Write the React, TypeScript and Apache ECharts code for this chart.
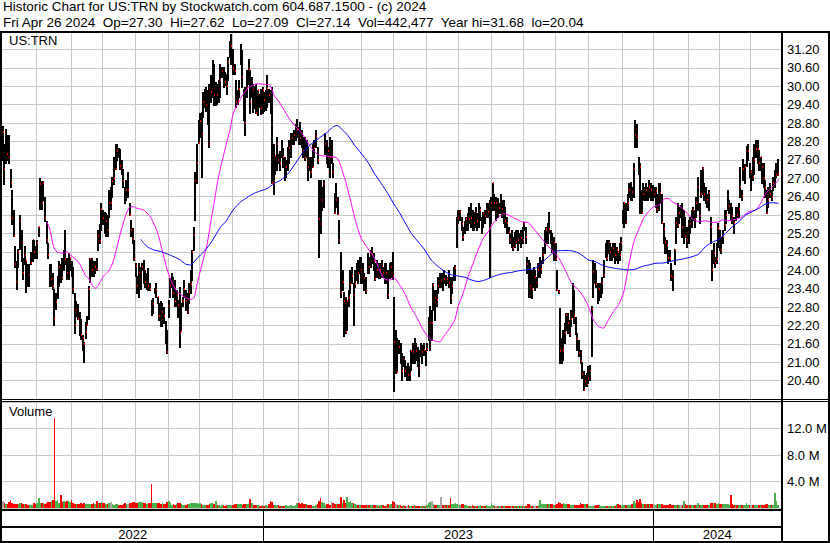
import React, { useEffect, useRef } from "react";
import * as echarts from "echarts";

const FONT = '"Liberation Sans", Arial, Helvetica, sans-serif';

const symbolName = "US:TRN";
const titleText = "Historic Chart for US:TRN by Stockwatch.com 604.687.1500 - (c) 2024";
const lastDate = "Fri Apr 26 2024";
const lastOpen = 27.3;
const lastVolume = 442477;
const yearHigh = 31.68;
const yearLow = 20.04;

// daily bars: [high, low, close]
const bars: number[][] = [
  [28.7,27.6,28.5],[28.1,26.8,27.3],[28.6,27.5,28.3],[28.4,27.6,27.8],[28.4,27.5,27.7],[27.3,26.7,26.85],[26.6,25.5,25.7],[25.95,25.1,25.1],[24.8,24.1,24.2],[24.3,23.4,23.6],
  [24.7,24.1,24.6],[25.8,24.7,25.6],[25.3,24.3,24.9],[24.4,23.7,23.9],[24.8,24.2,24.5],[24.3,23.3,24.3],[24.2,23.5,23.7],[24.2,23.5,23.85],[24.6,24.2,24.25],[25.0,24.3,25.0],
  [25.0,24.4,24.6],[24.8,24.4,24.45],[25.0,24.4,24.9],[25.4,25.1,25.4],[27.0,26.0,26.8],[26.9,26.0,26.2],[26.9,26.3,26.85],[26.4,25.6,25.7],[25.6,24.9,25.0],[24.9,24.4,24.5],
  [24.2,23.5,23.6],[24.2,23.5,23.7],[23.9,23.4,23.5],[23.4,22.2,22.4],[23.25,22.75,22.95],[23.8,23.1,23.6],[24.3,23.5,24.1],[24.2,23.6,23.85],[24.4,23.7,23.75],[24.65,24.0,24.5],
  [25.3,24.2,24.35],[24.4,23.7,23.9],[24.55,23.7,24.2],[24.4,24.0,24.4],[24.3,23.8,24.0],[24.1,23.25,23.4],[23.25,21.95,22.2],[22.98,22.5,22.7],[22.9,22.4,22.4],[22.65,21.9,22.05],
  [22.4,21.75,21.9],[21.9,21.4,21.8],[21.65,21.0,21.6],[22.3,21.8,22.0],[22.5,22.2,22.2],[23.5,22.4,23.4],[24.4,23.6,24.35],[24.4,23.8,24.0],[24.3,23.8,23.9],[24.3,23.9,24.1],
  [24.4,24.0,24.05],[25.3,24.65,25.1],[25.5,24.9,24.95],[26.2,25.3,26.0],[25.95,25.5,25.7],[25.9,25.2,25.4],[25.85,25.1,25.6],[25.8,25.1,25.3],[26.6,25.75,26.2],[26.7,26.0,26.2],
  [27.05,26.4,26.9],[27.7,26.8,27.0],[28.1,27.3,27.3],[28.1,27.6,27.9],[28.0,27.7,27.8],[27.95,27.3,27.4],[27.6,27.15,27.3],[27.3,26.7,26.9],[26.7,26.2,26.3],[26.95,26.3,26.6],
  [27.2,26.4,26.6],[26.2,25.8,25.8],[25.64,25.1,25.3],[25.37,24.88,25.02],[24.98,24.33,24.37],[24.23,23.8,24.15],[23.8,23.25,23.5],[24.23,23.14,23.9],[24.1,23.4,24.0],[24.23,24.0,24.1],
  [24.34,23.57,24.0],[24.0,23.46,23.6],[23.9,23.4,23.7],[24.06,23.35,23.5],[23.57,23.35,23.39],[23.03,22.54,22.7],[23.1,22.6,22.9],[23.41,23.25,23.3],[23.57,23.14,23.34],[23.14,22.92,23.11],
  [22.92,22.38,22.5],[22.98,22.17,22.19],[22.92,22.17,22.65],[22.8,22.27,22.5],[22.33,21.62,21.84],[22.06,21.3,21.32],[23.03,22.49,22.82],[23.73,23.14,23.5],[23.9,23.46,23.68],[23.79,23.14,23.27],
  [23.68,22.82,23.0],[23.35,22.82,23.2],[23.03,22.49,22.87],[23.46,21.51,22.0],[22.92,22.02,22.02],[23.14,22.82,23.0],[23.68,23.14,23.38],[23.36,22.71,23.0],[23.25,22.6,22.65],[23.57,22.92,23.3],
  [24.01,23.25,23.54],[24.65,23.68,24.58],[25.42,24.66,25.16],[27.2,25.64,26.92],[28.13,26.83,27.5],[28.89,28.15,28.15],[29.11,28.35,28.88],[29.16,27.05,28.43],[29.81,28.99,29.5],[29.92,29.32,29.76],
  [29.97,29.2,29.4],[29.87,28.78,29.22],[30.08,28.02,28.11],[30.35,29.48,29.8],[30.84,29.65,30.4],[30.73,29.38,29.7],[30.14,29.38,29.87],[30.08,29.43,29.7],[30.19,29.49,29.89],[30.73,29.65,30.2],
  [30.63,30.3,30.5],[30.63,29.97,30.3],[30.46,30.03,30.13],[30.41,29.76,30.0],[30.95,30.19,30.8],[31.49,30.95,31.2],[31.71,30.73,31.3],[31.22,30.41,30.6],[30.73,30.41,30.5],[30.19,29.32,29.5],
  [29.87,29.43,29.52],[30.19,29.65,29.9],[31.38,30.73,30.77],[31.17,29.97,30.3],[29.92,28.89,29.13],[29.97,28.4,28.81],[30.52,29.65,29.95],[30.9,30.08,30.57],[30.52,29.11,29.5],[30.3,29.65,29.97],
  [30.08,29.16,29.87],[30.0,29.3,29.5],[30.08,29.11,29.11],[29.87,29.05,29.87],[29.76,29.32,29.5],[29.9,29.1,29.3],[29.97,29.11,29.86],[29.8,29.2,29.56],[29.87,29.22,29.8],[30.35,29.32,29.95],
  [29.92,29.49,29.7],[29.87,29.11,29.3],[29.97,26.83,26.85],[28.13,26.5,26.83],[27.74,27.13,27.72],[28.35,27.26,28.11],[27.8,27.48,27.6],[27.9,27.26,27.5],[28.24,27.7,27.83],[27.97,27.37,27.7],
  [27.7,26.94,27.21],[27.59,27.05,27.35],[28.02,27.26,27.8],[28.24,27.48,27.97],[28.46,27.7,28.1],[28.46,28.13,28.31],[28.56,28.13,28.4],[28.78,28.24,28.5],[28.94,28.35,28.56],[28.67,28.13,28.4],
  [28.84,28.13,28.3],[28.56,28.02,28.13],[28.35,27.7,27.9],[28.35,27.59,27.66],[28.24,27.7,27.9],[28.02,26.94,27.37],[27.7,27.26,27.32],[27.7,27.05,27.2],[28.13,27.37,27.37],[28.24,27.7,28.0],
  [28.56,28.02,28.37],[28.02,27.48,27.6],[26.94,24.44,25.66],[26.94,25.2,25.5],[26.72,25.96,26.3],[26.94,26.07,26.8],[28.46,27.8,28.1],[28.24,27.48,27.94],[28.02,27.37,27.9],[28.35,27.05,27.7],
  [28.24,27.48,27.7],[27.48,27.05,27.2],[26.51,25.87,25.87],[26.83,26.07,26.29],[26.4,25.82,25.82],[25.64,24.88,24.99],[24.6,23.14,23.25],[24.01,23.36,23.6],[23.3,21.84,22.98],[23.14,21.95,22.0],
  [23.0,22.06,23.0],[23.36,22.82,23.1],[24.01,23.25,23.55],[24.12,23.57,23.8],[23.57,22.22,23.2],[24.01,23.46,23.54],[24.23,23.68,24.0],[24.34,23.57,23.9],[24.44,23.9,24.33],[24.44,23.57,24.0],
  [24.23,23.57,23.8],[23.9,23.36,23.76],[23.79,23.25,23.33],[24.55,23.9,24.2],[24.44,23.9,24.1],[24.66,24.12,24.4],[24.77,24.23,24.53],[24.55,24.01,24.3],[24.23,23.69,23.7],[24.34,23.79,24.0],
  [24.23,23.74,23.82],[24.23,23.74,24.0],[24.34,23.79,24.1],[24.12,23.79,23.92],[24.23,23.57,23.8],[24.23,23.57,23.9],[24.01,23.09,23.2],[24.23,23.74,23.92],[24.28,23.79,24.1],[24.6,23.7,23.8],
  [23.14,20.05,21.65],[22.06,20.65,21.65],[21.78,20.67,20.67],[21.73,21.3,21.5],[21.62,20.97,21.28],[21.3,20.43,20.7],[21.19,20.86,21.06],[21.08,20.54,20.7],[20.86,20.43,20.7],[20.97,20.43,20.57],
  [20.86,20.43,20.6],[21.41,20.76,21.36],[21.62,20.97,21.33],[21.78,20.97,21.41],[21.62,21.08,21.38],[21.51,20.86,20.97],[21.41,20.54,20.8],[21.62,21.19,21.49],[21.57,20.97,21.32],[21.62,21.24,21.4],
  [21.41,20.92,21.36],[21.62,21.41,21.43],[22.49,21.73,21.8],[22.82,21.41,22.27],[22.71,21.73,22.27],[23.57,22.71,23.52],[23.36,22.38,23.09],[23.36,22.82,23.03],[23.79,23.25,23.47],[23.9,23.46,23.66],
  [23.9,23.46,23.66],[23.9,23.36,23.6],[24.01,23.57,23.7],[23.85,23.52,23.6],[23.79,23.57,23.7],[24.01,23.46,23.57],[23.79,22.92,23.1],[23.79,23.25,23.5],[24.12,23.68,24.01],[24.17,23.68,24.06],
  [25.75,24.77,25.69],[25.96,25.53,25.69],[25.96,25.64,25.9],[25.75,25.31,25.5],[25.42,24.99,25.07],[25.6,25.2,25.4],[25.75,25.31,25.66],[25.85,25.31,25.69],[26.07,25.53,25.67],[26.18,25.42,25.69],
  [25.96,25.31,25.58],[25.91,25.31,25.53],[26.07,25.42,25.87],[25.85,25.31,25.61],[26.18,25.42,25.87],[26.07,25.64,25.96],[25.75,25.2,25.58],[25.91,25.42,25.85],[25.96,25.53,25.78],[26.18,25.75,25.85],
  [26.18,25.75,25.9],[26.29,23.79,26.18],[26.4,25.53,26.2],[26.83,25.96,26.83],[26.5,25.96,26.18],[26.4,25.64,26.18],[26.34,25.75,26.0],[26.18,25.85,26.02],[26.5,25.85,26.2],[26.29,25.75,26.0],
  [26.29,25.53,26.02],[26.07,25.42,25.6],[25.75,25.2,25.53],[25.42,25.2,25.26],[25.2,24.88,25.0],[25.31,24.77,25.0],[25.09,24.66,24.71],[25.26,24.77,25.0],[25.31,24.88,24.93],[25.31,24.66,25.0],
  [25.2,24.88,24.93],[25.31,24.77,25.06],[25.42,24.88,25.0],[25.58,25.31,25.5],[25.42,24.88,25.09],[24.44,23.9,24.2],[24.34,23.14,23.36],[24.23,23.14,23.5],[24.01,23.09,23.4],[24.12,23.46,23.79],
  [24.01,23.36,23.79],[23.79,23.46,23.57],[24.23,23.79,24.0],[24.44,23.79,24.01],[24.34,23.9,24.03],[24.77,24.23,24.5],[25.31,24.55,24.9],[25.42,24.88,25.35],[25.53,24.88,25.2],[25.91,25.2,25.33],
  [25.31,24.88,25.0],[25.2,24.6,24.6],[25.09,24.33,24.88],[24.88,24.33,24.36],[24.01,23.36,23.36],[23.36,23.25,23.3],[22.76,20.97,21.38],[21.78,20.97,21.2],[22.06,21.08,21.41],[22.27,21.62,21.95],
  [22.6,22.06,22.55],[22.6,21.95,22.27],[22.38,21.84,21.93],[22.71,22.17,22.4],[23.57,22.49,22.84],[23.36,22.27,22.5],[22.49,21.93,21.93],[21.95,21.41,21.75],[21.73,21.19,21.3],[21.41,20.97,21.03],
  [21.0,20.5,20.6],[20.7,20.1,20.1],[20.59,20.21,20.4],[20.65,20.21,20.3],[20.86,20.32,20.49],[20.92,20.43,20.7],[22.82,21.19,22.73],[24.34,23.14,23.95],[24.23,23.57,23.9],[24.01,23.46,23.55],
  [23.57,22.92,23.14],[23.57,23.03,23.38],[23.57,23.14,23.49],[23.79,23.25,23.57],[24.34,23.79,23.85],[24.88,24.44,24.71],[24.99,24.34,24.4],[24.99,24.55,24.9],[24.88,24.34,24.6],[24.77,24.34,24.66],
  [24.88,24.44,24.71],[24.88,24.23,24.5],[24.77,24.34,24.66],[24.6,24.23,24.6],[24.88,24.34,24.5],[25.09,24.66,24.9],[25.96,25.53,25.61],[26.23,25.42,26.18],[26.18,25.53,25.58],[26.5,25.96,26.18],
  [26.83,26.4,26.6],[26.88,26.29,26.69],[26.72,26.29,26.54],[27.5,26.4,27.3],[28.89,28.02,28.4],[28.78,28.02,28.35],[27.7,27.15,27.39],[27.48,25.85,27.37],[26.61,25.85,25.85],[26.83,26.29,26.5],
  [26.72,26.29,26.36],[26.83,26.29,26.6],[26.72,26.29,26.5],[26.94,26.4,26.7],[26.83,26.29,26.61],[26.78,26.29,26.5],[26.72,26.4,26.5],[26.72,26.07,26.58],[26.5,25.91,25.98],[26.83,25.96,26.5],
  [26.83,26.18,26.53],[26.5,25.53,25.53],[25.53,24.88,25.33],[25.09,24.55,24.93],[24.99,24.55,24.82],[24.66,24.23,24.4],[24.66,24.33,24.39],[24.23,23.68,23.82],[24.01,23.36,23.79],[24.7,24.2,24.66],
  [25.75,24.88,25.53],[26.18,25.42,25.47],[26.07,25.53,25.85],[26.12,25.75,25.85],[26.18,25.09,25.4],[25.96,24.88,25.42],[25.75,25.09,25.11],[25.42,24.77,25.0],[25.64,24.88,25.55],[25.75,25.2,25.5],
  [25.96,25.42,25.87],[26.07,25.64,25.96],[25.96,25.42,25.7],[26.4,25.75,26.18],[27.05,25.96,26.72],[26.18,25.53,25.77],[27.26,26.4,26.5],[27.37,26.5,27.32],[26.83,26.29,26.5],[26.72,26.18,26.4],
  [26.5,26.07,26.29],[26.61,25.96,26.53],[25.75,24.88,25.42],[24.66,23.68,24.0],[24.88,24.23,24.57],[24.44,24.12,24.23],[24.88,24.23,24.38],[25.53,24.77,25.39],[25.31,24.66,25.09],[25.09,24.55,24.66],
  [25.31,24.88,25.11],[25.96,25.31,25.47],[25.96,25.53,25.8],[26.61,25.96,26.02],[26.29,25.85,26.1],[26.18,25.64,26.02],[26.07,25.53,25.77],[25.75,25.2,25.53],[26.07,25.64,25.96],[26.07,25.75,25.8],
  [26.18,25.75,26.0],[27.37,26.4,26.72],[26.61,26.29,26.42],[27.61,26.94,27.3],[27.45,26.85,27.37],[28.05,27.4,27.86],[28.13,27.6,27.9],[27.48,27.05,27.21],[27.26,26.61,27.21],[27.7,26.94,27.05],
  [28.13,27.15,27.59],[28.24,27.7,27.94],[28.24,27.48,27.94],[27.91,27.26,27.5],[27.7,27.26,27.7],[27.48,26.83,27.37],[27.48,26.72,27.0],[26.94,26.4,26.67],[26.61,25.85,25.87],[26.72,26.07,26.3],
  [26.83,26.4,26.5],[26.61,26.29,26.4],[27.05,26.61,26.83],[27.26,26.72,27.09],[27.48,27.05,27.11],[27.62,27.09,27.14],
];

// daily volume, thousands of shares
const volumesK: number[] = [
  1000,700,650,600,850,1200,700,600,650,600, 600,800,750,650,600,550,500,450,500,500,
  750,650,800,1500,700,700,750,650,800,850, 900,1100,1200,13600,1000,1200,800,2000,900,1000,
  950,1100,1000,900,1200,700,600,650,600,550, 700,650,750,600,650,600,550,650,700,600,
  1000,800,750,850,800,700,650,600,800,850, 600,500,650,550,500,450,500,550,700,650,
  600,800,800,900,950,700,750,900,850,900, 800,700,650,700,700,3600,800,800,750,700,
  800,600,700,650,600,900,1000,800,500,600, 500,550,800,750,600,500,450,500,600,650,
  700,700,750,700,700,650,700,650,450,400, 450,500,600,700,750,600,1000,500,400,350,
  450,400,350,450,400,500,450,500,600,550, 600,650,550,500,600,600,550,650,1400,700,
  500,450,400,450,350,300,400,350,400,300, 600,1100,900,500,450,400,450,350,300,350,
  300,400,350,350,400,300,350,450,800,700, 600,700,650,550,600,500,400,450,350,300,
  500,650,1000,1500,900,800,500,600,550,500, 1100,700,600,550,600,600,1600,800,1200,700,
  1600,900,1000,800,800,600,500,450,400,450, 500,450,400,500,450,400,450,400,450,400,
  350,400,450,400,350,400,600,500,550,1000, 900,600,500,450,400,350,400,350,350,400,
  350,300,350,400,350,300,350,300,250,300, 350,400,800,900,1000,600,450,400,450,500,
  1600,450,450,400,450,450,1500,600,600,700, 600,500,450,600,550,450,400,350,300,350,
  400,300,350,300,350,400,350,300,350,400, 350,300,700,500,350,300,350,300,300,250,
  300,300,350,300,300,350,300,300,250,300, 350,300,300,350,300,550,600,400,300,350,
  300,350,400,1200,600,650,550,600,600,600, 650,550,500,500,600,900,700,650,700,600,
  650,600,550,450,500,450,500,400,450,800, 600,600,550,600,500,300,350,300,350,500,
  450,500,350,300,350,300,300,350,300,300, 350,300,600,550,400,350,400,450,400,400,
  450,500,550,1000,800,1200,900,1400,800,600, 550,550,600,550,600,600,550,500,600,550,
  600,600,450,500,450,400,600,500,450,450, 400,450,500,450,500,1000,600,450,450,400,
  450,500,450,400,700,500,450,500,450,500, 450,500,800,800,750,700,650,700,600,600,
  550,600,550,600,500,1900,600,450,500,450, 500,450,500,450,500,800,450,500,450,500,
  450,450,500,450,450,500,500,550,650,500, 450,500,500,2200,1100,442,
];

// first bar index of each month (monthly grid lines)
const monthStarts: number[] = [22, 44, 64, 85, 106, 126, 147, 167, 189, 208, 229, 250, 271, 291, 312, 333, 353, 374, 396, 416, 438, 458, 478];
const yearLabels: string[] = ["2022", "2023", "2024"];
const yearStarts: number[] = [0, 167, 416];

// moving averages: [bar index, price]
const maShort: number[][] = [
  [28.1,25.58],[30.2,25.31],[32.4,24.77],[34.5,24.6],[36.7,24.57],[38.8,24.55],[40.9,24.6],[43.1,24.5],[45.2,24.41],[47.3,24.33],[49.5,24.17],[51.6,23.95],[53.3,23.79],[54.8,23.74],[56.9,23.52],[59.1,23.41],[60.6,23.47],[62.3,23.63],[64.4,23.81],[66.6,23.92],[68.7,24.06],[70.8,24.33],[73.0,24.77],[75.1,25.2],[77.2,25.58],[79.4,25.91],[81.5,26.07],[83.6,26.07],
  [85.8,26.02],[90.0,25.96],[94.3,25.74],[98.6,25.26],[101.8,24.66],[105.0,24.01],[108.2,23.57],[111.4,23.3],[115.7,23.14],[119.9,23.05],[122.1,23.09],[124.2,23.57],[126.3,24.01],[128.5,24.44],[130.6,24.88],[132.7,25.53],[134.9,26.18],[137.0,26.83],[139.2,27.37],[141.3,27.81],[143.4,28.24],[145.6,28.67],[146.6,29.0],[148.8,29.32],[150.9,29.49],[153.0,29.7],[156.2,29.92],[159.4,30.03],[162.6,30.08],[166.9,30.06],
  [170.1,30.06],[173.3,29.7],[176.5,29.49],[179.7,29.22],[183.0,28.94],[186.2,28.73],[189.4,28.56],[192.6,28.35],[195.8,28.08],[199.0,27.86],[202.2,27.75],[206.4,27.72],[210.7,27.7],[213.9,27.64],[216.0,27.37],[219.3,26.83],[222.5,26.18],[225.7,25.53],[228.9,25.04],[233.1,24.71],[237.4,24.39],[240.6,24.01],[243.8,23.71],[247.0,23.68],[250.2,23.74],
  [253.4,23.52],[256.6,23.25],[260.9,22.76],[264.1,22.49],[267.3,22.17],[270.5,21.89],[273.7,21.73],[276.9,21.68],[279.1,21.66],[282.3,21.89],[285.5,22.11],[288.7,22.38],[290.8,22.82],[294.0,23.25],[297.2,23.79],[300.4,24.23],[303.6,24.66],[306.8,25.04],[310.0,25.26],[313.2,25.53],[316.4,25.71],[319.6,25.85],[322.8,25.8],[327.1,25.69],[331.4,25.58],
  [335.6,25.55],[339.8,25.31],[344.1,25.04],[348.4,24.77],[352.7,24.55],[355.9,24.33],[359.1,24.01],[363.3,23.57],[367.6,23.36],[370.8,23.14],[374.0,22.82],[377.2,22.38],[380.4,22.17],[383.6,22.11],[386.8,22.38],[390.0,22.65],[393.2,22.87],[396.4,23.25],[399.6,24.12],[402.8,24.88],[406.0,25.31],[409.2,25.69],[412.4,25.91],[415.6,26.07],
  [418.9,26.12],[423.1,26.34],[425.3,26.34],[427.4,26.23],[431.7,26.12],[436.0,25.91],[440.2,25.69],[444.5,25.58],[448.8,25.61],[454.1,25.55],[457.3,25.58],[459.4,25.64],[463.7,25.61],[468.0,25.66],[472.3,25.74],[476.5,25.91],[480.8,25.96],[484.0,26.18],[487.2,26.5],[490.4,26.67],[493.6,26.83],[495.5,26.96],
];
const maLong: number[][] = [
  [87.9,25.01],[92.2,24.77],[96.4,24.66],[100.7,24.61],[105.0,24.53],[109.3,24.44],[113.5,24.33],[116.7,24.2],[119.9,24.17],[123.1,24.33],[126.3,24.5],[129.5,24.66],[132.7,24.88],[136.0,25.15],[139.2,25.42],[142.4,25.58],[145.6,25.85],[148.8,26.07],[152.0,26.23],[155.2,26.34],[158.4,26.45],[161.6,26.53],[164.8,26.59],
  [169.1,26.67],[173.3,26.83],[177.6,26.94],[181.9,27.13],[186.2,27.43],[190.4,27.75],[194.7,28.02],[199.0,28.19],[203.2,28.35],[207.5,28.51],[210.7,28.67],[213.5,28.72],[216.0,28.62],[220.3,28.4],[224.6,28.08],[228.9,27.81],[233.1,27.53],[237.4,27.15],[241.7,26.83],[245.9,26.5],[250.2,26.12],
  [252.4,25.96],[256.6,25.58],[260.9,25.2],[265.2,24.93],[269.5,24.66],[273.7,24.33],[278.0,24.12],[282.3,23.96],[286.5,23.85],[290.8,23.81],[295.1,23.77],[299.3,23.68],[303.6,23.63],[307.9,23.68],[312.2,23.77],[316.4,23.85],[320.7,23.9],[325.0,23.93],[329.2,23.98],[334.6,24.01],
  [339.8,24.06],[344.1,24.23],[348.4,24.44],[352.7,24.61],[356.9,24.64],[361.2,24.64],[365.5,24.61],[369.7,24.5],[374.0,24.33],[378.3,24.28],[382.6,24.17],[386.8,24.1],[391.1,24.06],[395.4,24.03],[399.6,24.01],[403.9,24.03],[408.2,24.12],[412.4,24.17],[417.8,24.23],
  [421.0,24.23],[427.4,24.3],[433.8,24.36],[440.2,24.44],[444.5,24.53],[448.8,24.77],[453.0,24.91],[457.3,25.01],[461.6,25.2],[465.9,25.42],[470.1,25.58],[474.4,25.8],[478.7,25.91],[482.9,26.02],[487.2,26.16],[491.5,26.2],[495.5,26.18],
];

const priceMin = 19.8;
const priceMax = 31.8;
const priceStep = 0.6;
const volMaxM = 16;
const volStepM = 4;

const GRID_GRAY = "#c8c8c8";
const UP_GREEN = "#4cb04c";
const DOWN_RED = "#ff0000";
const FLAT_GRAY = "#a8a8a8";

export default function App() {
  const ref = useRef<HTMLDivElement>(null);

  useEffect(() => {
    document.body.style.margin = "0";
    const el = ref.current!;
    const chart = echarts.init(el, null, { renderer: "svg" });

    const N = bars.length;
    const xMin = -0.5;
    const xMax = 497;
    const last = bars[N - 1];
    const sp = "\u00a0 ";
    const infoLine =
      `${lastDate}${sp}Op=${lastOpen.toFixed(2)}${sp}Hi=${last[0].toFixed(2)}${sp}Lo=${last[1].toFixed(2)}${sp}Cl=${last[2].toFixed(2)}${sp}Vol=${lastVolume.toLocaleString("en-US")}${sp}Year hi=${yearHigh.toFixed(2)}${sp}lo=${yearLow.toFixed(2)}`;

    const ohlcData = bars.map((b, i) => [i, b[0], b[1], b[2]]);
    const volData = volumesK.map((v, i) => {
      const prev = i > 0 ? bars[i - 1][2] : bars[i][2];
      const cur = bars[i] ? bars[i][2] : prev;
      const dir = cur > prev ? 1 : cur < prev ? -1 : 0;
      return [i, v * 1000, dir];
    });

    const gridLineSeries = (g: number, yVal: number, color: string, starts: number[]) => ({
      type: "custom",
      xAxisIndex: g,
      yAxisIndex: g,
      z: 1,
      silent: true,
      data: starts.map((m) => [m - 0.5, yVal]),
      encode: { x: 0, y: 1 },
      renderItem: (params: any, api: any) => {
        const cs = params.coordSys;
        const x = Math.round(api.coord([api.value(0), yVal])[0]) + 0.5;
        return {
          type: "line",
          shape: { x1: x, y1: cs.y, x2: x, y2: cs.y + cs.height },
          style: { stroke: color, lineWidth: 1 },
        };
      },
    });

    const yearMid = yearStarts.map((s, k) => {
      const a = k === 0 ? xMin : s - 0.5;
      const b = k + 1 < yearStarts.length ? yearStarts[k + 1] - 0.5 : xMax;
      return [(a + b) / 2, 0.5];
    });

    const option: any = {
      animation: false,
      backgroundColor: "#ffffff",
      textStyle: { fontFamily: FONT },
      grid: [
        { left: 2, top: 31, width: 779, height: 368 },
        { left: 2, top: 402, width: 779, height: 106 },
        { left: 2, top: 511, width: 779, height: 31 },
      ],
      xAxis: [0, 1, 2].map((g) => ({ type: "value", gridIndex: g, min: xMin, max: xMax, show: false })),
      yAxis: [
        {
          type: "value",
          gridIndex: 0,
          position: "right",
          min: priceMin,
          max: priceMax,
          interval: priceStep,
          axisLine: { show: false },
          axisTick: { show: false },
          axisLabel: {
            margin: 6,
            fontSize: 13,
            fontFamily: FONT,
            color: "#000",
            showMinLabel: false,
            showMaxLabel: false,
            formatter: (v: number) => v.toFixed(2),
          },
          splitLine: { show: true, lineStyle: { color: GRID_GRAY, width: 1 } },
        },
        {
          type: "value",
          gridIndex: 1,
          position: "right",
          min: 0,
          max: volMaxM * 1e6,
          interval: volStepM * 1e6,
          axisLine: { show: false },
          axisTick: { show: false },
          axisLabel: {
            margin: 6,
            fontSize: 13,
            fontFamily: FONT,
            color: "#000",
            showMinLabel: false,
            showMaxLabel: false,
            formatter: (v: number) => (v / 1e6).toFixed(1) + " M",
          },
          splitLine: { show: true, lineStyle: { color: GRID_GRAY, width: 1 } },
        },
        { type: "value", gridIndex: 2, min: 0, max: 1, show: false },
      ],
      series: [
        gridLineSeries(0, priceMin, GRID_GRAY, monthStarts),
        gridLineSeries(1, 0, GRID_GRAY, monthStarts),
        gridLineSeries(2, 0, "#000", yearStarts.slice(1)),
        {
          type: "custom",
          xAxisIndex: 2,
          yAxisIndex: 2,
          silent: true,
          data: yearMid,
          encode: { x: 0, y: 1 },
          renderItem: (params: any, api: any) => {
            const cs = params.coordSys;
            const x = api.coord([api.value(0), 0.5])[0];
            return {
              type: "text",
              x,
              y: cs.y + cs.height - 7.5,
              style: {
                text: yearLabels[params.dataIndex],
                fontSize: 13,
                fontFamily: FONT,
                fill: "#000",
                align: "center",
                verticalAlign: "middle",
              },
            };
          },
        },
        {
          type: "custom",
          name: "price",
          xAxisIndex: 0,
          yAxisIndex: 0,
          z: 2,
          data: ohlcData,
          encode: { x: 0, y: [1, 2, 3] },
          renderItem: (params: any, api: any) => {
            const i = api.value(0);
            const pH = api.coord([i, api.value(1)]);
            const pL = api.coord([i, api.value(2)]);
            const pC = api.coord([i, api.value(3)]);
            const x = Math.round(pH[0] - 1);
            const yT = Math.round(pH[1]);
            const yB = Math.round(pL[1]);
            return {
              type: "group",
              children: [
                { type: "rect", shape: { x, y: yT, width: 2, height: Math.max(1, yB - yT + 1) }, style: { fill: "#000" } },
                { type: "rect", shape: { x: x + 1, y: Math.round(pC[1]) - 1, width: 1, height: 2 }, style: { fill: DOWN_RED } },
              ],
            };
          },
        },
        {
          type: "line",
          xAxisIndex: 0,
          yAxisIndex: 0,
          z: 3,
          data: maShort,
          showSymbol: false,
          silent: true,
          smooth: 0.2,
          lineStyle: { color: "#ff00ff", width: 1 },
        },
        {
          type: "line",
          xAxisIndex: 0,
          yAxisIndex: 0,
          z: 3,
          data: maLong,
          showSymbol: false,
          silent: true,
          smooth: 0.2,
          lineStyle: { color: "#0000ff", width: 1 },
        },
        {
          type: "custom",
          name: "volume",
          xAxisIndex: 1,
          yAxisIndex: 1,
          z: 2,
          data: volData,
          encode: { x: 0, y: 1 },
          renderItem: (params: any, api: any) => {
            const i = api.value(0);
            const v = api.value(1);
            const dir = api.value(2);
            const l = Math.round(api.coord([i - 0.5, 0])[0]);
            const r = Math.round(api.coord([i + 0.5, 0])[0]);
            const base = Math.round(api.coord([i, 0])[1]);
            const top = Math.round(api.coord([i, v])[1]);
            const fill = dir > 0 ? UP_GREEN : dir < 0 ? DOWN_RED : FLAT_GRAY;
            return {
              type: "rect",
              shape: { x: l, y: top, width: Math.max(1, r - l), height: Math.max(1, base - top) },
              style: { fill },
            };
          },
        },
      ],
      graphic: [
        { type: "text", x: 3, y: -1, style: { text: titleText, fontSize: 13.5, fontFamily: FONT, fill: "#000", verticalAlign: "top" } },
        { type: "text", x: 3, y: 15, style: { text: infoLine, fontSize: 13.5, fontFamily: FONT, fill: "#000", verticalAlign: "top" } },
        { type: "text", x: 9, y: 34, z: 10, style: { text: symbolName, fontSize: 13, fontFamily: FONT, fill: "#000", verticalAlign: "top" } },
        { type: "text", x: 9, y: 405, z: 10, style: { text: "Volume", fontSize: 13, fontFamily: FONT, fill: "#000", verticalAlign: "top" } },
        { type: "rect", z: 20, shape: { x: 0, y: 31, width: 830, height: 2 }, style: { fill: "#000" } },
        { type: "rect", z: 20, shape: { x: 0, y: 31, width: 2, height: 512 }, style: { fill: "#000" } },
        { type: "rect", z: 20, shape: { x: 781, y: 31, width: 2, height: 512 }, style: { fill: "#000" } },
        { type: "rect", z: 20, shape: { x: 828, y: 31, width: 2, height: 512 }, style: { fill: "#000" } },
        { type: "rect", z: 20, shape: { x: 0, y: 399, width: 830, height: 1 }, style: { fill: "#000" } },
        { type: "rect", z: 20, shape: { x: 0, y: 401, width: 830, height: 1 }, style: { fill: "#000" } },
        { type: "rect", z: 20, shape: { x: 0, y: 509, width: 783, height: 2 }, style: { fill: "#000" } },
        { type: "rect", z: 20, shape: { x: 0, y: 526, width: 783, height: 2 }, style: { fill: "#000" } },
        { type: "rect", z: 20, shape: { x: 0, y: 541, width: 830, height: 2 }, style: { fill: "#000" } },
      ],
    };

    chart.setOption(option);
    return () => chart.dispose();
  }, []);

  return <div ref={ref} style={{ position: "fixed", left: 0, top: 0, width: 830, height: 543 }} />;
}
